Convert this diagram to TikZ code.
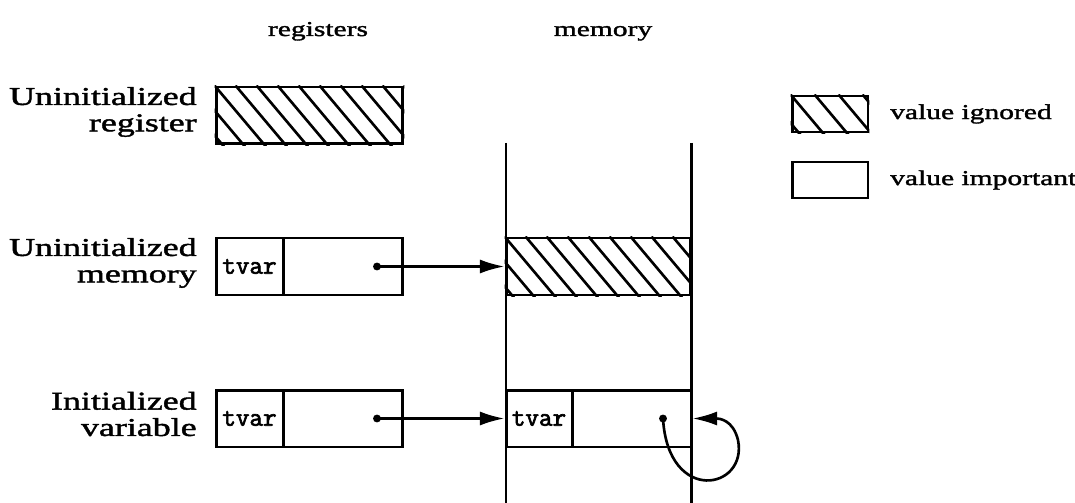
\documentclass[tikz,border=0pt]{standalone}
\usepackage{fontspec}
\setmainfont[FakeStretch=1.4,FakeBold=1.6]{Liberation Serif}
\setmonofont[FakeBold=2.5]{Latin Modern Mono}
\usetikzlibrary{arrows.meta}

% diagonal hatching inside a node
\newcommand{\hatchin}[2]{%
  \begin{scope}
    \clip (#1.south west) rectangle (#1.north east);
    \foreach \k in {-5,...,10}
      \draw[hatch] ([xshift=\k*#2*0.02cm]#1.north west) -- ++(96,114);
  \end{scope}}

\begin{document}
\begin{tikzpicture}[x=0.02cm,y=-0.02cm,
  cell/.style={draw,line width=1.7pt,minimum height=1.14cm,inner sep=0pt},
  hatch/.style={line width=1.5pt},
  lbl/.style={anchor=east,inner sep=0pt,align=right,font=\fontsize{14.6pt}{15pt}\selectfont},
  head/.style={anchor=base,font=\fontsize{12pt}{14pt}\selectfont},
  tv/.style={font=\ttfamily\fontsize{15pt}{15pt}\selectfont},
  ptr/.style={-{Latex[length=14pt,width=8pt]},line width=1.5pt},
  dot/.style={circle,fill,inner sep=0pt,minimum size=4.5pt}]
  \useasboundingbox (0,0) rectangle (1075,503);

  \node[head] at (318,36) (REG) {registers};
  \node[head] at (603,36) (MEM) {memory};

  % memory column
  \draw[line width=1.7pt] (506,143) -- (506,503);
  \draw[line width=1.7pt] (691,143) -- (691,503);

  % row 1
  \node[lbl] at (197,112) (L1) {Uninitialized\\register};
  \node[cell,minimum width=3.74cm] at (309.5,115.5) (R1) {};
  \hatchin{R1}{21}

  % row 2
  \node[lbl] at (197,263) (L2) {Uninitialized\\memory};
  \node[cell,tv,minimum width=1.34cm] at (249.5,266.5) (T2) {tvar};
  \node[cell,minimum width=2.4cm] at (343,266.5) (V2) {};
  \node[cell,minimum width=3.7cm] at (598.5,266.5) (M2) {};
  \hatchin{M2}{21}
  \node[dot] at (377,266.5) (D2) {};
  \draw[ptr] (D2.center) -- (M2.west);

  % row 3
  \node[lbl] at (197,414) (L3) {Initialized\\variable};
  \node[cell,tv,minimum width=1.34cm] at (249.5,418.5) (T3) {tvar};
  \node[cell,minimum width=2.4cm] at (343,418.5) (V3) {};
  \node[cell,tv,minimum width=1.32cm] at (539,418.5) (MT3) {tvar};
  \node[cell,minimum width=2.38cm] at (631.5,418.5) (MV3) {};
  \node[dot] at (377,418.5) (D3) {};
  \node[dot] at (663,418.5) (D4) {};
  \draw[ptr] (D3.center) -- (MT3.west);
  \draw[ptr] (D4.center) .. controls (668,505) and (748,490) .. (738,440)
     .. controls (733,420) and (720,418.5) .. (MV3.east);

  % legend
  \node[draw,line width=1.7pt,minimum width=1.52cm,minimum height=0.72cm] at (830,114) (K1) {};
  \hatchin{K1}{24}
  \node[draw,line width=1.7pt,minimum width=1.52cm,minimum height=0.72cm] at (830,180) (K2) {};
  \node[anchor=west,font=\fontsize{12pt}{14pt}\selectfont] at (884,114) (K1T) {value ignored};
  \node[anchor=west,font=\fontsize{12pt}{14pt}\selectfont] at (884,180) (K2T) {value important};
\end{tikzpicture}
\end{document}
